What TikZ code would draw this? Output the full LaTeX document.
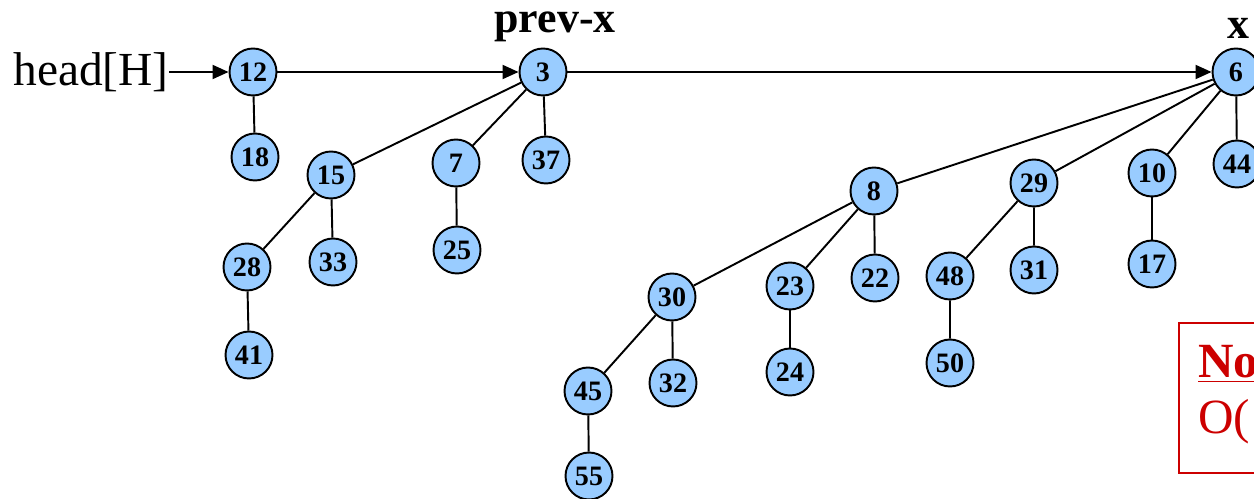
\documentclass[tikz,border=0pt]{standalone}
\usepackage{fontspec}
\setmainfont{Liberation Serif}
\usepackage{tikz}
\usetikzlibrary{arrows.meta}
\definecolor{keyblue}{RGB}{153,204,255}
\definecolor{notered}{RGB}{204,0,0}

\begin{document}
\begin{tikzpicture}[
    x=0.02cm, y=-0.02cm,
    key/.style={draw, circle, line width=1.1pt, fill=keyblue, inner sep=0pt, minimum size=0.94cm,
        font=\fontsize{16}{16}\selectfont\bfseries},
    lbl/.style={font=\fontsize{25}{27}\selectfont\bfseries, inner sep=0pt},
    edge/.style={line width=1.1pt},
    link/.style={line width=1.1pt, -{Triangle[length=3.2mm, width=2.8mm]}}]

    \useasboundingbox (0,0) rectangle (1254,499);

    % root list
    \node[font=\fontsize{27}{30}\selectfont, inner sep=0pt] (head) at (91,72) {head[H]};
    \node[key] (n12) at (253,72) {12};
    \node[key] (n3) at (543,72) {3};
    \node[key] (n6) at (1236,72) {6};
    \node[lbl] (prevx) at (555,27) {prev-x};
    \node[lbl] (xlbl) at (1238,28) {x};

    % tree under 12
    \node[key] (n18) at (255,157) {18};

    % tree under 3
    \node[key] (n15) at (331,175) {15};
    \node[key] (n7) at (456,163) {7};
    \node[key] (n37) at (546,160) {37};
    \node[key] (n28) at (247,267) {28};
    \node[key] (n33) at (333,262) {33};
    \node[key] (n25) at (457,250) {25};
    \node[key] (n41) at (249,355) {41};

    % tree under 6
    \node[key] (n8) at (874,191) {8};
    \node[key] (n29) at (1034,183) {29};
    \node[key] (n10) at (1152,173) {10};
    \node[key] (n44) at (1237,164) {44};
    \node[key] (n30) at (672,297) {30};
    \node[key] (n23) at (790,286) {23};
    \node[key] (n22) at (875,278) {22};
    \node[key] (n48) at (950,276) {48};
    \node[key] (n31) at (1034,270) {31};
    \node[key] (n17) at (1152,264) {17};
    \node[key] (n45) at (588,391) {45};
    \node[key] (n32) at (673,383) {32};
    \node[key] (n24) at (790,372) {24};
    \node[key] (n50) at (950,363) {50};
    \node[key] (n55) at (589,476) {55};

    \draw[link] (head) -- (n12);
    \draw[link] (n12) -- (n3);
    \draw[link] (n3) -- (n6);

    \draw[edge] (n12) -- (n18);
    \draw[edge] (n3) -- (n15) (n3) -- (n7) (n3) -- (n37);
    \draw[edge] (n15) -- (n28) (n15) -- (n33) (n28) -- (n41);
    \draw[edge] (n7) -- (n25);
    \draw[edge] (n6) -- (n8) (n6) -- (n29) (n6) -- (n10) (n6) -- (n44);
    \draw[edge] (n8) -- (n30) (n8) -- (n23) (n8) -- (n22);
    \draw[edge] (n30) -- (n45) (n30) -- (n32) (n45) -- (n55);
    \draw[edge] (n23) -- (n24);
    \draw[edge] (n29) -- (n48) (n29) -- (n31) (n48) -- (n50);
    \draw[edge] (n10) -- (n17);

    % note box, cut by the right edge
    \node[draw=notered, line width=1.2pt, minimum width=3.1cm, minimum height=3cm, anchor=north west]
        (notebox) at (1178,322) {};
    \node[text=notered, font=\fontsize{28}{30}\selectfont\bfseries, anchor=base west, inner sep=0pt]
        (notehead) at (1198,378) {\underline{No}};
    \node[text=notered, font=\fontsize{28}{30}\selectfont, anchor=base west, inner sep=0pt]
        (notebody) at (1198,434) {O(};
\end{tikzpicture}
\end{document}
